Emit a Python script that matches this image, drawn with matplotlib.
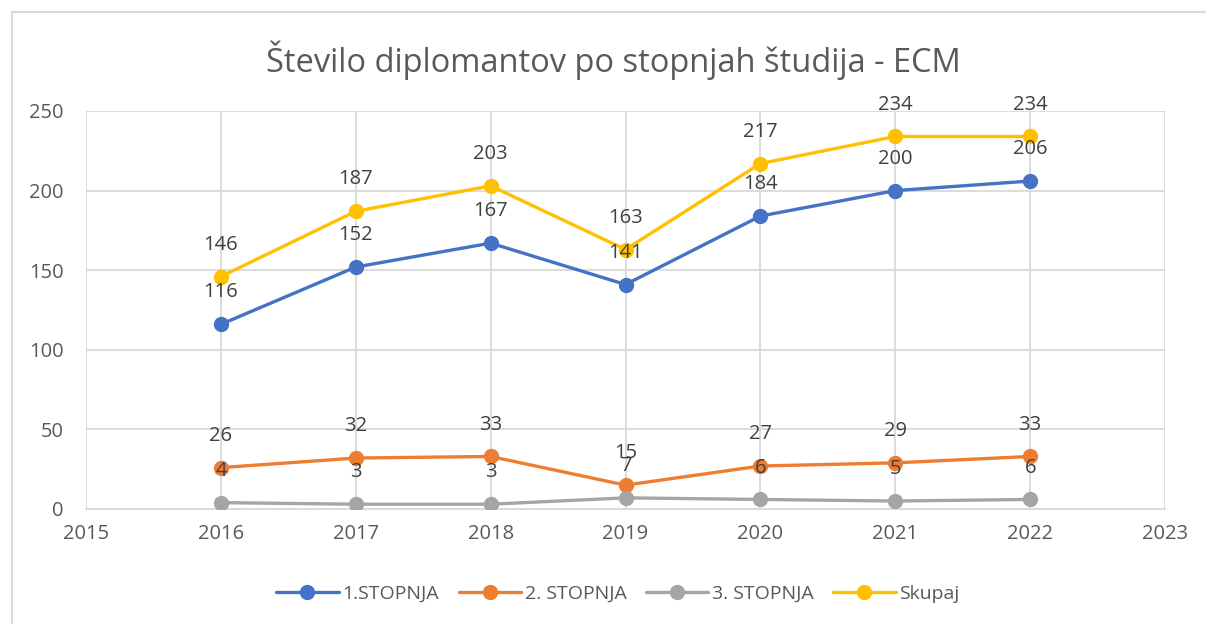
import matplotlib
matplotlib.use("Agg")
import matplotlib.pyplot as plt
from matplotlib.patches import Rectangle

years = [2016, 2017, 2018, 2019, 2020, 2021, 2022]
stopnja1 = [116, 152, 167, 141, 184, 200, 206]
stopnja2 = [26, 32, 33, 15, 27, 29, 33]
stopnja3 = [4, 3, 3, 7, 6, 5, 6]
skupaj = [146, 187, 203, 163, 217, 234, 234]
series_names = ["1.STOPNJA", "2. STOPNJA", "3. STOPNJA", "Skupaj"]
colors = ["#4472C4", "#ED7D31", "#A5A5A5", "#FFC000"]
title = "Število diplomantov po stopnjah študija - ECM"

plt.rcParams['font.family'] = ['Open Sans', 'DejaVu Sans']

fig = plt.figure(figsize=(12.06, 6.24), dpi=100)
fig.patches.append(Rectangle((12/1206, -0.1), 1.2, 612/624 + 0.1, transform=fig.transFigure,
                             fill=False, edgecolor="#d9d9d9", linewidth=1.5))
ax = fig.add_axes([86/1206, 115/624, (1165-86)/1206, (509-111)/624])

series = [stopnja1, stopnja2, stopnja3, skupaj]
for vals, name, c in zip(series, series_names, colors):
    ax.plot(years, vals, color=c, lw=2.4, marker='o', markersize=10, label=name,
            solid_capstyle='round', zorder=3)
for vals in series:
    for x, v in zip(years, vals):
        ax.annotate(str(v), (x, v), xytext=(0, 23), textcoords='offset points',
                    ha='center', va='center', fontsize=14.5, color='#404040', zorder=4)

ax.set_xlim(2015, 2023)
ax.set_ylim(0, 250)
ax.set_xticks(range(2015, 2024))
ax.set_yticks(range(0, 251, 50))
ax.grid(True, color='#d9d9d9', lw=1.3, zorder=0)
for s in ['top', 'right', 'left']:
    ax.spines[s].set_visible(False)
ax.spines['bottom'].set_color('#d9d9d9')
ax.spines['bottom'].set_linewidth(1.3)
ax.tick_params(axis='both', length=0, labelsize=14.5, colors='#595959')
ax.tick_params(axis='x', pad=11)
ax.tick_params(axis='y', pad=16)

fig.text(613/1206, 1 - 60/624, title, ha='center', va='center', fontsize=23.5, color='#595959')

fig.legend(loc='center', bbox_to_anchor=(618/1206, 1 - 594/624), ncol=4, frameon=False,
           fontsize=14, labelcolor='#595959', handlelength=3.2, columnspacing=1.0, handletextpad=0.2)

fig.savefig("out.png", dpi=100)
